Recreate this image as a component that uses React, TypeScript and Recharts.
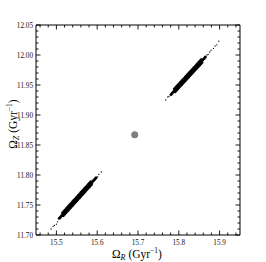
import React from 'react';
import { ScatterChart, Scatter, XAxis, YAxis, Label } from 'recharts';

const FONT = "'Liberation Serif', 'DejaVu Serif', serif";

// tick positions / labels
const xMajor = [15.5, 15.6, 15.7, 15.8, 15.9];
const xTickLabels = ['15.5', '15.6', '15.7', '15.8', '15.9'];
const xTicksAll = [15.46, 15.48, 15.5, 15.52, 15.54, 15.56, 15.58, 15.6, 15.62, 15.64, 15.66, 15.68, 15.7, 15.72, 15.74, 15.76, 15.78, 15.8, 15.82, 15.84, 15.86, 15.88, 15.9, 15.92, 15.94];
const yMajor = [11.7, 11.75, 11.8, 11.85, 11.9, 11.95, 12.0, 12.05];
const yTickLabels = ['11.70', '11.75', '11.80', '11.85', '11.90', '11.95', '12.00', '12.05'];
const yTicksAll = [11.7, 11.71, 11.72, 11.73, 11.74, 11.75, 11.76, 11.77, 11.78, 11.79, 11.8, 11.81, 11.82, 11.83, 11.84, 11.85, 11.86, 11.87, 11.88, 11.89, 11.9, 11.91, 11.92, 11.93, 11.94, 11.95, 11.96, 11.97, 11.98, 11.99, 12.0, 12.01, 12.02, 12.03, 12.04, 12.05];

const xDomain = [15.45, 15.95];
const yDomain = [11.7, 12.05];

// dense upper cluster: ridge
const upperRidge = [
  { x: 15.781, y: 11.9343 }, { x: 15.784, y: 11.9365 }, { x: 15.787, y: 11.9387 }, { x: 15.790, y: 11.9410 },
  { x: 15.793, y: 11.9432 }, { x: 15.796, y: 11.9454 }, { x: 15.799, y: 11.9476 }, { x: 15.802, y: 11.9498 },
  { x: 15.805, y: 11.9521 }, { x: 15.808, y: 11.9543 }, { x: 15.811, y: 11.9565 }, { x: 15.814, y: 11.9587 },
  { x: 15.817, y: 11.9609 }, { x: 15.820, y: 11.9632 }, { x: 15.823, y: 11.9654 }, { x: 15.826, y: 11.9676 },
  { x: 15.829, y: 11.9698 }, { x: 15.832, y: 11.9720 }, { x: 15.835, y: 11.9743 }, { x: 15.838, y: 11.9765 },
  { x: 15.841, y: 11.9787 }, { x: 15.844, y: 11.9809 }, { x: 15.847, y: 11.9831 }, { x: 15.850, y: 11.9854 },
  { x: 15.853, y: 11.9876 }, { x: 15.856, y: 11.9898 }, { x: 15.859, y: 11.9920 }, { x: 15.862, y: 11.9942 },
  { x: 15.865, y: 11.9965 },
];
// dense upper cluster: flanks
const upperFlanks = [
  { x: 15.791, y: 11.9385 }, { x: 15.794, y: 11.9407 }, { x: 15.797, y: 11.9429 }, { x: 15.800, y: 11.9451 },
  { x: 15.803, y: 11.9473 }, { x: 15.806, y: 11.9496 }, { x: 15.809, y: 11.9518 }, { x: 15.812, y: 11.9540 },
  { x: 15.815, y: 11.9562 }, { x: 15.818, y: 11.9584 }, { x: 15.821, y: 11.9607 }, { x: 15.824, y: 11.9629 },
  { x: 15.827, y: 11.9651 }, { x: 15.830, y: 11.9673 }, { x: 15.833, y: 11.9695 }, { x: 15.836, y: 11.9718 },
  { x: 15.839, y: 11.9740 }, { x: 15.842, y: 11.9762 }, { x: 15.845, y: 11.9784 }, { x: 15.848, y: 11.9806 },
  { x: 15.851, y: 11.9829 }, { x: 15.854, y: 11.9851 }, { x: 15.857, y: 11.9873 },
  { x: 15.789, y: 11.9435 }, { x: 15.792, y: 11.9457 }, { x: 15.795, y: 11.9479 }, { x: 15.798, y: 11.9501 },
  { x: 15.801, y: 11.9523 }, { x: 15.804, y: 11.9546 }, { x: 15.807, y: 11.9568 }, { x: 15.810, y: 11.9590 },
  { x: 15.813, y: 11.9612 }, { x: 15.816, y: 11.9634 }, { x: 15.819, y: 11.9657 }, { x: 15.822, y: 11.9679 },
  { x: 15.825, y: 11.9701 }, { x: 15.828, y: 11.9723 }, { x: 15.831, y: 11.9745 }, { x: 15.834, y: 11.9768 },
  { x: 15.837, y: 11.9790 }, { x: 15.840, y: 11.9812 }, { x: 15.843, y: 11.9834 }, { x: 15.846, y: 11.9856 },
  { x: 15.849, y: 11.9879 }, { x: 15.852, y: 11.9901 }, { x: 15.855, y: 11.9923 },
];

// sparse upper tails
const upperSparse = [
  { x: 15.768, y: 11.925 }, { x: 15.773, y: 11.930 }, { x: 15.776, y: 11.931 },
  { x: 15.869, y: 12.000 }, { x: 15.872, y: 12.001 }, { x: 15.876, y: 12.005 }, { x: 15.879, y: 12.008 },
  { x: 15.885, y: 12.011 }, { x: 15.889, y: 12.015 }, { x: 15.893, y: 12.017 }, { x: 15.898, y: 12.023 },
];

// dense lower cluster: ridge
const lowerRidge = [
  { x: 15.507, y: 11.7278 }, { x: 15.510, y: 11.7300 }, { x: 15.513, y: 11.7323 }, { x: 15.516, y: 11.7345 },
  { x: 15.519, y: 11.7368 }, { x: 15.522, y: 11.7390 }, { x: 15.525, y: 11.7413 }, { x: 15.528, y: 11.7435 },
  { x: 15.531, y: 11.7458 }, { x: 15.534, y: 11.7480 }, { x: 15.537, y: 11.7503 }, { x: 15.540, y: 11.7525 },
  { x: 15.543, y: 11.7548 }, { x: 15.546, y: 11.7570 }, { x: 15.549, y: 11.7593 }, { x: 15.552, y: 11.7615 },
  { x: 15.555, y: 11.7638 }, { x: 15.558, y: 11.7660 }, { x: 15.561, y: 11.7683 }, { x: 15.564, y: 11.7705 },
  { x: 15.567, y: 11.7728 }, { x: 15.570, y: 11.7750 }, { x: 15.573, y: 11.7773 }, { x: 15.576, y: 11.7795 },
  { x: 15.579, y: 11.7818 }, { x: 15.582, y: 11.7840 }, { x: 15.585, y: 11.7863 }, { x: 15.588, y: 11.7885 },
  { x: 15.591, y: 11.7908 }, { x: 15.594, y: 11.7930 }, { x: 15.597, y: 11.7953 },
];
// dense lower cluster: flanks
const lowerFlanks = [
  { x: 15.517, y: 11.7320 }, { x: 15.520, y: 11.7343 }, { x: 15.523, y: 11.7365 }, { x: 15.526, y: 11.7388 },
  { x: 15.529, y: 11.7410 }, { x: 15.532, y: 11.7433 }, { x: 15.535, y: 11.7455 }, { x: 15.538, y: 11.7478 },
  { x: 15.541, y: 11.7500 }, { x: 15.544, y: 11.7523 }, { x: 15.547, y: 11.7545 }, { x: 15.550, y: 11.7568 },
  { x: 15.553, y: 11.7590 }, { x: 15.556, y: 11.7613 }, { x: 15.559, y: 11.7635 }, { x: 15.562, y: 11.7658 },
  { x: 15.565, y: 11.7680 }, { x: 15.568, y: 11.7703 }, { x: 15.571, y: 11.7725 }, { x: 15.574, y: 11.7748 },
  { x: 15.577, y: 11.7770 }, { x: 15.580, y: 11.7793 }, { x: 15.583, y: 11.7815 }, { x: 15.586, y: 11.7838 },
  { x: 15.515, y: 11.7370 }, { x: 15.518, y: 11.7393 }, { x: 15.521, y: 11.7415 }, { x: 15.524, y: 11.7438 },
  { x: 15.527, y: 11.7460 }, { x: 15.530, y: 11.7483 }, { x: 15.533, y: 11.7505 }, { x: 15.536, y: 11.7528 },
  { x: 15.539, y: 11.7550 }, { x: 15.542, y: 11.7573 }, { x: 15.545, y: 11.7595 }, { x: 15.548, y: 11.7618 },
  { x: 15.551, y: 11.7640 }, { x: 15.554, y: 11.7663 }, { x: 15.557, y: 11.7685 }, { x: 15.560, y: 11.7708 },
  { x: 15.563, y: 11.7730 }, { x: 15.566, y: 11.7753 }, { x: 15.569, y: 11.7775 }, { x: 15.572, y: 11.7798 },
  { x: 15.575, y: 11.7820 }, { x: 15.578, y: 11.7843 }, { x: 15.581, y: 11.7865 }, { x: 15.584, y: 11.7888 },
];

// sparse lower tails
const lowerSparse = [
  { x: 15.487, y: 11.710 }, { x: 15.492, y: 11.714 }, { x: 15.495, y: 11.716 }, { x: 15.500, y: 11.718 },
  { x: 15.503, y: 11.722 },
  { x: 15.601, y: 11.797 }, { x: 15.604, y: 11.801 }, { x: 15.610, y: 11.805 },
];

// mean point
const centerPoint = [{ x: 15.692, y: 11.867 }];

const findIdx = (v: number, arr: number[]) => arr.findIndex((a) => Math.abs(a - v) < 1e-6);

const TICK_W = 0.9;

const BottomTick = (props: any) => {
  const { x, y, payload } = props;
  const i = findIdx(payload.value, xMajor);
  const len = i >= 0 ? 4.5 : 2.5;
  return (
    <g>
      <line x1={x} x2={x} y1={y} y2={y - len} stroke="#000" strokeWidth={TICK_W} />
      {i >= 0 && (
        <text x={x} y={y + 9.5} textAnchor="middle" fontSize={7.2} fontFamily={FONT} fill="#111">
          {xTickLabels[i]}
        </text>
      )}
    </g>
  );
};

const TopTick = (props: any) => {
  const { x, y, payload } = props;
  const i = findIdx(payload.value, xMajor);
  const len = i >= 0 ? 4.5 : 2.5;
  return <line x1={x} x2={x} y1={y} y2={y + len} stroke="#000" strokeWidth={TICK_W} />;
};

const LeftTick = (props: any) => {
  const { x, y, payload } = props;
  const i = findIdx(payload.value, yMajor);
  const len = i >= 0 ? 4.5 : 2.5;
  return (
    <g>
      <line x1={x} x2={x + len} y1={y} y2={y} stroke="#000" strokeWidth={TICK_W} />
      {i >= 0 && (
        <text x={x - 3} y={y + 2.5} textAnchor="end" fontSize={7.2} fontFamily={FONT} fill="#111">
          {yTickLabels[i]}
        </text>
      )}
    </g>
  );
};

const RightTick = (props: any) => {
  const { x, y, payload } = props;
  const i = findIdx(payload.value, yMajor);
  const len = i >= 0 ? 4.5 : 2.5;
  return <line x1={x} x2={x - len} y1={y} y2={y} stroke="#000" strokeWidth={TICK_W} />;
};

const XLabel = () => (
  <text x={137} y={257.5} textAnchor="middle" fontFamily={FONT} fontSize={11.5} fill="#000">
    Ω
    <tspan fontSize={8} fontStyle="italic" dy={2}>R</tspan>
    <tspan dy={-2}> (Gyr</tspan>
    <tspan fontSize={7.5} dy={-4.5}>−1</tspan>
    <tspan dy={4.5}>)</tspan>
  </text>
);

const YLabel = () => (
  <text
    x={16.5}
    y={124}
    textAnchor="middle"
    fontFamily={FONT}
    fontSize={11.5}
    fill="#000"
    transform="rotate(-90, 16.5, 124)"
  >
    Ω
    <tspan fontSize={8} fontStyle="italic" dy={2}>Z</tspan>
    <tspan dy={-2}> (Gyr</tspan>
    <tspan fontSize={7.5} dy={-4.5}>−1</tspan>
    <tspan dy={4.5}>)</tspan>
  </text>
);

const dot = (r: number, fill: string) => (props: any) => (
  <circle cx={props.cx} cy={props.cy} r={r} fill={fill} stroke="none" />
);

export default function App() {
  return (
    <div style={{ position: 'absolute', left: 0, top: 0, width: 266, height: 262, background: '#fff' }}>
      <ScatterChart width={266} height={262} margin={{ top: 24, right: 25, bottom: 0, left: 0 }}>
        <XAxis
          xAxisId="b"
          type="number"
          dataKey="x"
          domain={xDomain}
          allowDataOverflow
          ticks={xTicksAll}
          interval={0}
          tickSize={0}
          tickMargin={0}
          tickLine={false}
          tick={BottomTick}
          axisLine={{ stroke: '#000', strokeWidth: 1 }}
          height={27}
        >
          <Label content={XLabel} />
        </XAxis>
        <XAxis
          xAxisId="t"
          orientation="top"
          type="number"
          dataKey="x"
          domain={xDomain}
          allowDataOverflow
          ticks={xTicksAll}
          interval={0}
          tickSize={0}
          tickMargin={0}
          tickLine={false}
          tick={TopTick}
          axisLine={{ stroke: '#000', strokeWidth: 1 }}
          height={1}
        />
        <YAxis
          yAxisId="l"
          type="number"
          dataKey="y"
          domain={yDomain}
          allowDataOverflow
          ticks={yTicksAll}
          interval={0}
          tickSize={0}
          tickMargin={0}
          tickLine={false}
          tick={LeftTick}
          axisLine={{ stroke: '#000', strokeWidth: 1 }}
          width={36}
        >
          <Label content={YLabel} />
        </YAxis>
        <YAxis
          yAxisId="r"
          orientation="right"
          type="number"
          dataKey="y"
          domain={yDomain}
          allowDataOverflow
          ticks={yTicksAll}
          interval={0}
          tickSize={0}
          tickMargin={0}
          tickLine={false}
          tick={RightTick}
          axisLine={{ stroke: '#000', strokeWidth: 1 }}
          width={1}
        />
        <Scatter xAxisId="b" yAxisId="l" data={upperSparse} shape={dot(0.65, '#000')} isAnimationActive={false} />
        <Scatter xAxisId="b" yAxisId="l" data={lowerSparse} shape={dot(0.65, '#000')} isAnimationActive={false} />
        <Scatter xAxisId="b" yAxisId="l" data={upperFlanks} shape={dot(1.4, '#000')} isAnimationActive={false} />
        <Scatter xAxisId="b" yAxisId="l" data={lowerFlanks} shape={dot(1.4, '#000')} isAnimationActive={false} />
        <Scatter xAxisId="b" yAxisId="l" data={upperRidge} shape={dot(1.5, '#000')} isAnimationActive={false} />
        <Scatter xAxisId="b" yAxisId="l" data={lowerRidge} shape={dot(1.5, '#000')} isAnimationActive={false} />
        <Scatter xAxisId="t" yAxisId="r" data={centerPoint} shape={dot(3.5, '#808080')} isAnimationActive={false} />
      </ScatterChart>
    </div>
  );
}
